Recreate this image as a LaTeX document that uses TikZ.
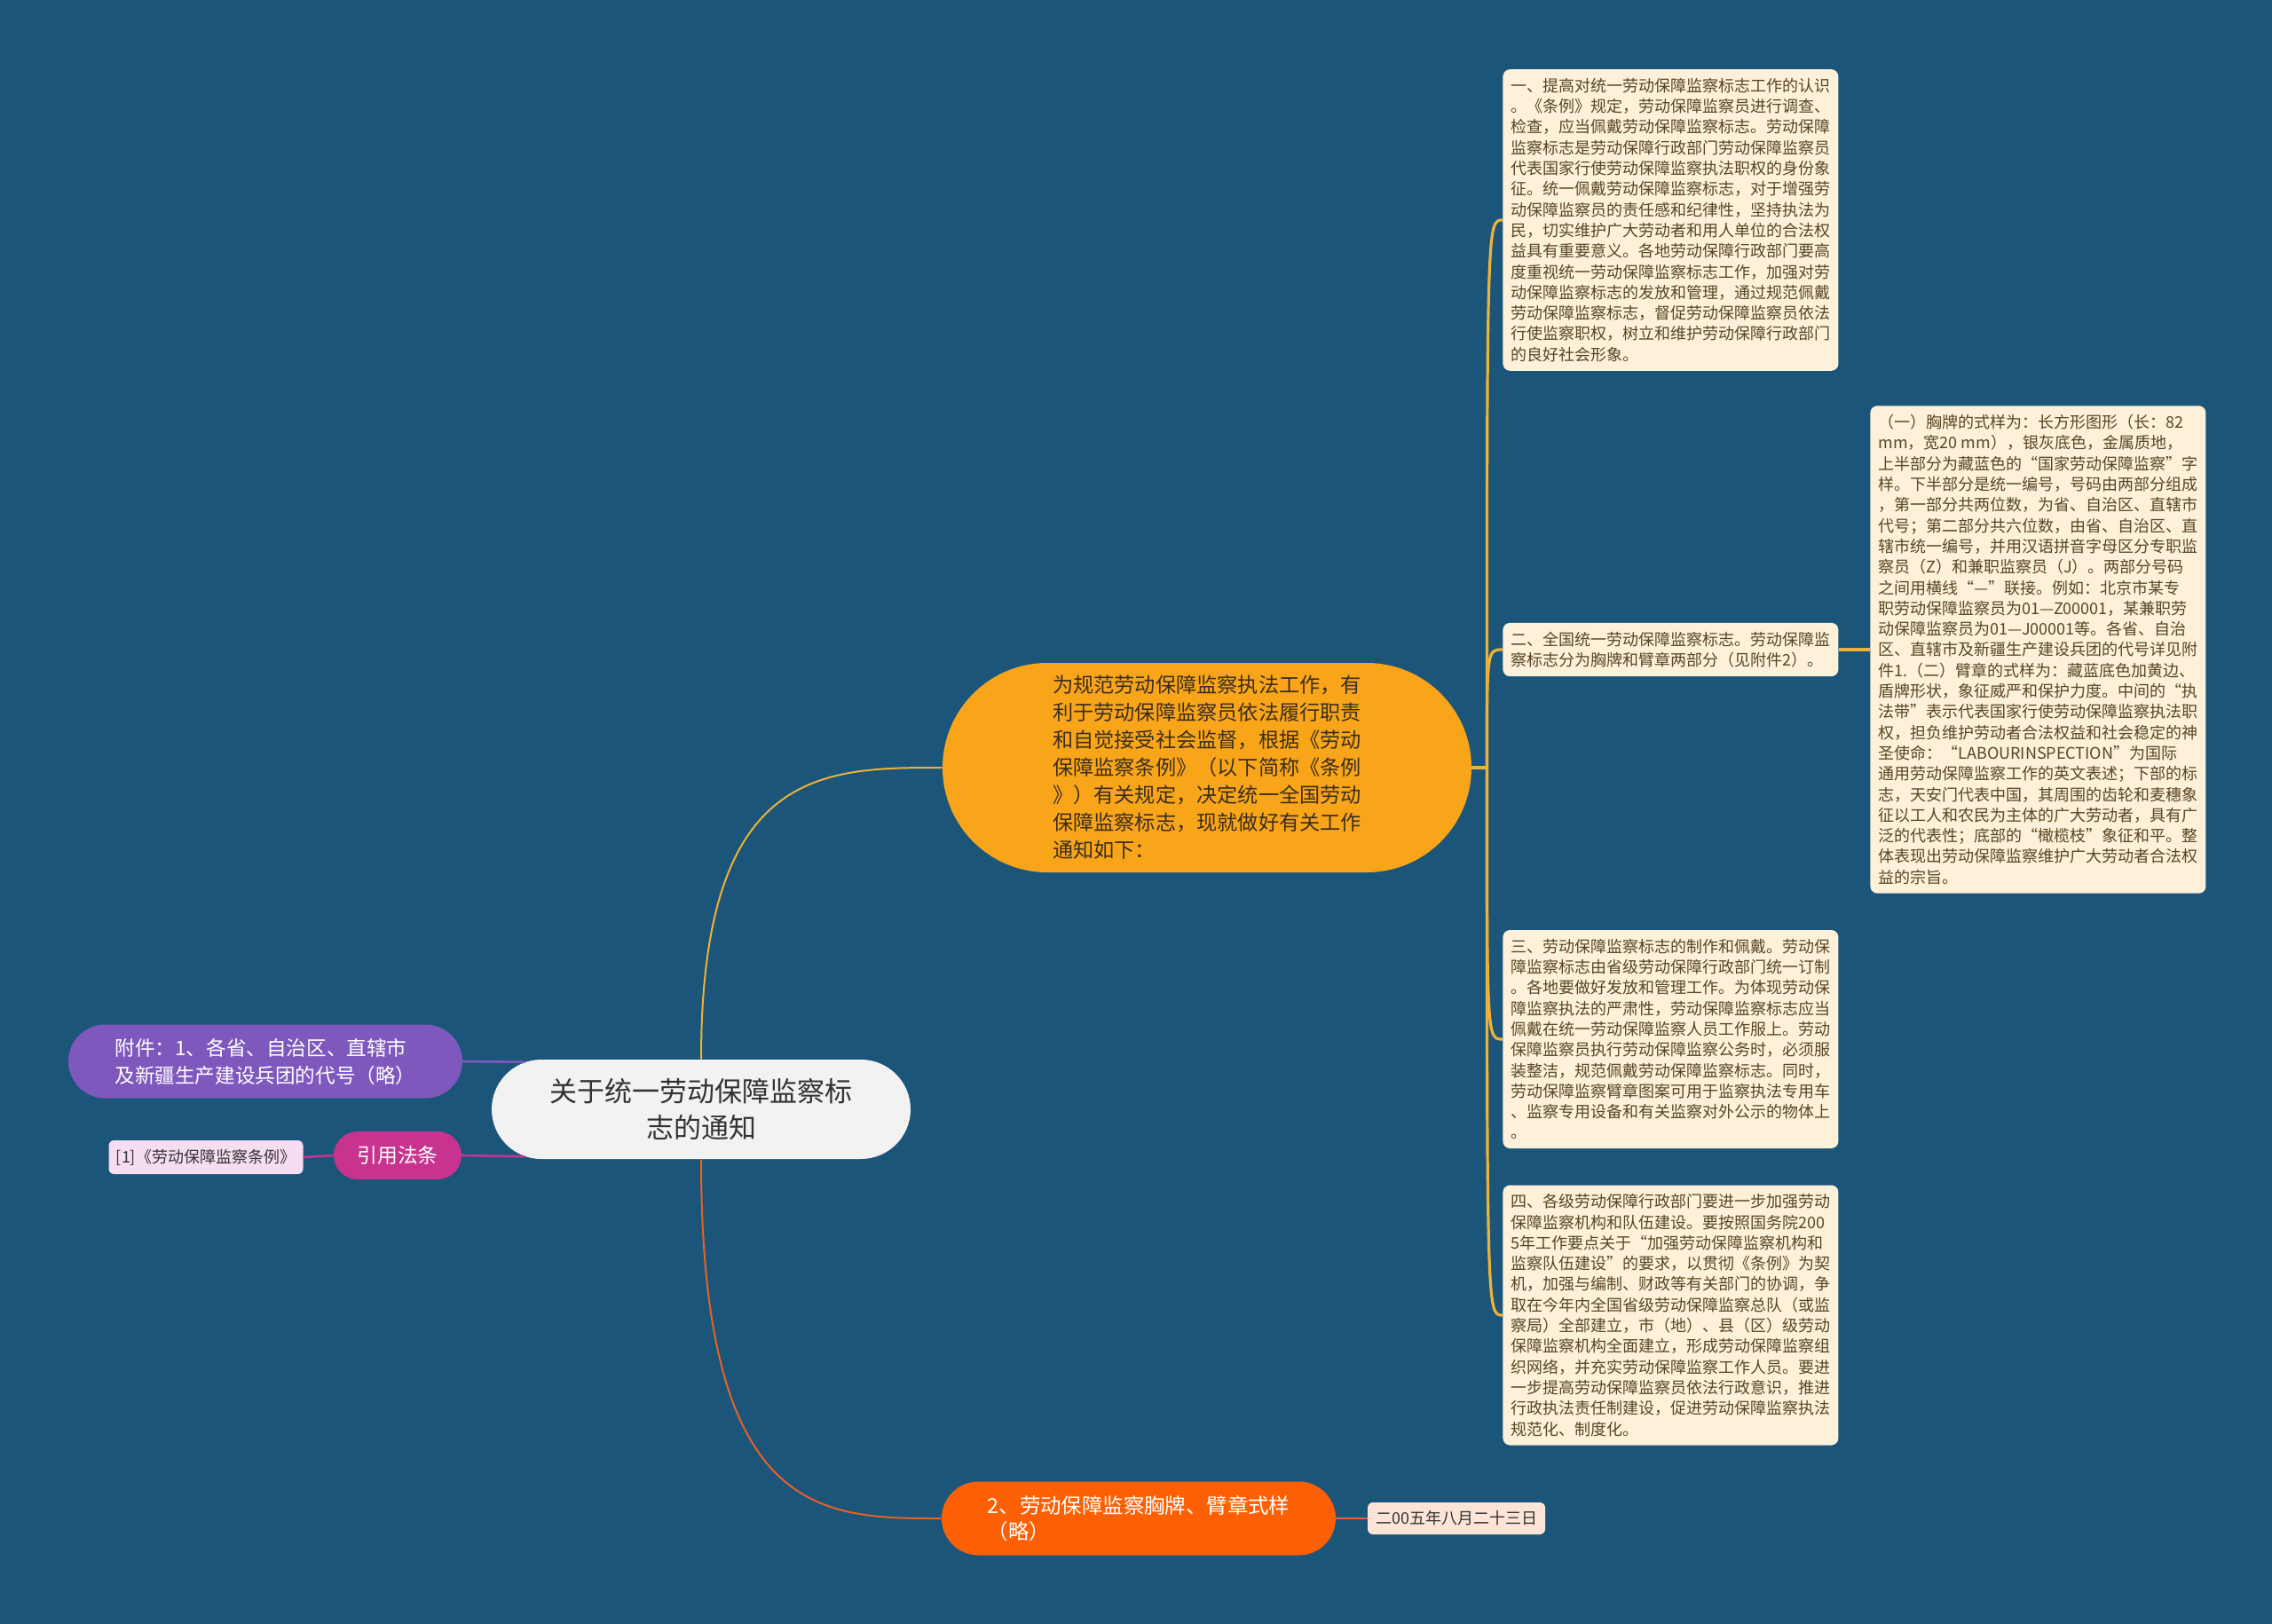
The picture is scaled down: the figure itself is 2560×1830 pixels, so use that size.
\documentclass[tikz,border=0pt]{standalone}
\usepackage{fontspec}
\newfontfamily\cjk{Noto Sans CJK SC}
\usepackage{tikz}
\usetikzlibrary{calc,shapes.misc}
\usepackage{xcolor}
\definecolor{bgblue}{HTML}{1B5579}
\definecolor{titlebg}{HTML}{F2F2F2}
\definecolor{titletext}{HTML}{333333}
\definecolor{introbg}{HTML}{F9A51A}
\definecolor{introtext}{HTML}{3B2E1E}
\definecolor{badgebg}{HTML}{FD6004}
\definecolor{annexbg}{HTML}{7F58BE}
\definecolor{lawbg}{HTML}{C8338F}
\definecolor{lawitembg}{HTML}{F7DDF1}
\definecolor{datebg}{HTML}{FCE4D6}
\definecolor{cardbg}{HTML}{FDF1D9}
\definecolor{cardtext}{HTML}{5A4524}
\definecolor{gold}{HTML}{EDB23A}
\definecolor{redline}{HTML}{E8612A}

\begin{document}
\begin{tikzpicture}[x=0.5pt, y=-0.5pt,
  pill/.style={rounded rectangle, inner xsep=2pt, inner ysep=3pt, align=left},
  card/.style={fill=cardbg, rounded corners=4pt, anchor=west, minimum width=189pt,
               inner xsep=4.5pt, inner ysep=5pt, align=left, text=cardtext,
               font=\cjk\fontsize{9}{11.65}\selectfont},
  tag/.style={rounded corners=3pt, inner xsep=3pt, inner ysep=2pt, text=titletext,
              font=\cjk\fontsize{9}{11}\selectfont},
  link/.style={line width=1.3pt}]
  \fill[bgblue] (0,0) rectangle (2560,1830);

  % 中心与左侧
  \node[pill, fill=titlebg, text=titletext, align=center, minimum width=240pt, minimum height=56pt,
        font=\cjk\fontsize{15.5}{20.5}\selectfont] (title) at (790,1250) {关于统一劳动保障监察标\\志的通知};
  \node[pill, fill=annexbg, text=white, minimum width=226pt, minimum height=41.5pt,
        font=\cjk\fontsize{11.3}{15.5}\selectfont] (annex) at (299,1196)
        {附件：1、各省、自治区、直辖市\\及新疆生产建设兵团的代号（略）};
  \node[pill, fill=lawbg, text=white, minimum width=76pt, minimum height=27pt,
        font=\cjk\fontsize{11.4}{13}\selectfont] (lawref) at (448,1302) {引用法条};
  \node[tag, fill=lawitembg, minimum width=109.5pt, minimum height=19pt] (lawitem) at (232,1304)
        {[1]《劳动保障监察条例》};

  % 右侧分支
  \node[pill, fill=introbg, text=introtext, minimum width=302pt, minimum height=118pt,
        font=\cjk\fontsize{11.6}{15.5}\selectfont] (intro) at (1360,865)
        {为规范劳动保障监察执法工作，有\\利于劳动保障监察员依法履行职责\\和自觉接受社会监督，根据《劳动\\保障监察条例》（以下简称《条例\\》）有关规定，决定统一全国劳动\\保障监察标志，现就做好有关工作\\通知如下：};
  \node[pill, fill=badgebg, text=white, minimum width=226pt, minimum height=41.5pt,
        font=\cjk\fontsize{11.7}{14.7}\selectfont] (badge) at (1283,1711)
        {2、劳动保障监察胸牌、臂章式样\\（略）};
  \node[tag, fill=datebg, minimum width=100pt, minimum height=18pt] (datebox) at (1641,1711)
        {二00五年八月二十三日};

  \node[card] (p1) at (1693,248) {一、提高对统一劳动保障监察标志工作的认识\\。《条例》规定，劳动保障监察员进行调查、\\检查，应当佩戴劳动保障监察标志。劳动保障\\监察标志是劳动保障行政部门劳动保障监察员\\代表国家行使劳动保障监察执法职权的身份象\\征。统一佩戴劳动保障监察标志，对于增强劳\\动保障监察员的责任感和纪律性，坚持执法为\\民，切实维护广大劳动者和用人单位的合法权\\益具有重要意义。各地劳动保障行政部门要高\\度重视统一劳动保障监察标志工作，加强对劳\\动保障监察标志的发放和管理，通过规范佩戴\\劳动保障监察标志，督促劳动保障监察员依法\\行使监察职权，树立和维护劳动保障行政部门\\的良好社会形象。};
  \node[card] (p2) at (1693,732) {二、全国统一劳动保障监察标志。劳动保障监\\察标志分为胸牌和臂章两部分（见附件2）。};
  \node[card] (p2a) at (2107,732) {（一）胸牌的式样为：长方形图形（长：82\\mm，宽20 mm），银灰底色，金属质地，\\上半部分为藏蓝色的“国家劳动保障监察”字\\样。下半部分是统一编号，号码由两部分组成\\，第一部分共两位数，为省、自治区、直辖市\\代号；第二部分共六位数，由省、自治区、直\\辖市统一编号，并用汉语拼音字母区分专职监\\察员（Z）和兼职监察员（J）。两部分号码\\之间用横线“—”联接。例如：北京市某专\\职劳动保障监察员为01—Z00001，某兼职劳\\动保障监察员为01—J00001等。各省、自治\\区、直辖市及新疆生产建设兵团的代号详见附\\件1.（二）臂章的式样为：藏蓝底色加黄边、\\盾牌形状，象征威严和保护力度。中间的“执\\法带”表示代表国家行使劳动保障监察执法职\\权，担负维护劳动者合法权益和社会稳定的神\\圣使命：“LABOURINSPECTION”为国际\\通用劳动保障监察工作的英文表述；下部的标\\志，天安门代表中国，其周围的齿轮和麦穗象\\征以工人和农民为主体的广大劳动者，具有广\\泛的代表性；底部的“橄榄枝”象征和平。整\\体表现出劳动保障监察维护广大劳动者合法权\\益的宗旨。};
  \node[card] (p3) at (1693,1171) {三、劳动保障监察标志的制作和佩戴。劳动保\\障监察标志由省级劳动保障行政部门统一订制\\。各地要做好发放和管理工作。为体现劳动保\\障监察执法的严肃性，劳动保障监察标志应当\\佩戴在统一劳动保障监察人员工作服上。劳动\\保障监察员执行劳动保障监察公务时，必须服\\装整洁，规范佩戴劳动保障监察标志。同时，\\劳动保障监察臂章图案可用于监察执法专用车\\、监察专用设备和有关监察对外公示的物体上\\。};
  \node[card] (p4) at (1693,1482) {四、各级劳动保障行政部门要进一步加强劳动\\保障监察机构和队伍建设。要按照国务院200\\5年工作要点关于“加强劳动保障监察机构和\\监察队伍建设”的要求，以贯彻《条例》为契\\机，加强与编制、财政等有关部门的协调，争\\取在今年内全国省级劳动保障监察总队（或监\\察局）全部建立，市（地）、县（区）级劳动\\保障监察机构全面建立，形成劳动保障监察组\\织网络，并充实劳动保障监察工作人员。要进\\一步提高劳动保障监察员依法行政意识，推进\\行政执法责任制建设，促进劳动保障监察执法\\规范化、制度化。};

  % 连线
  \draw[gold, line width=1pt] (title.north) .. controls (title.north |- intro.west)
        and ($(title.north |- intro.west)!.5!(intro.west)$) .. (intro.west);
  \draw[redline, line width=1pt] (title.south) .. controls (title.south |- badge.west)
        and ($(title.south |- badge.west)!.5!(badge.west)$) .. (badge.west);
  \draw[link, annexbg] (annex.east) -- (title.165);
  \draw[link, lawbg] (lawref.east) -- (title.195);
  \draw[link, lawbg] (lawitem.east) -- (lawref.west);
  \draw[link, redline] (badge.east) -- (datebox.west);

  \coordinate (hub) at ($(intro.east)+(17,0)$);
  \draw[gold, line width=1.6pt] (intro.east) -- (hub);
  \draw[gold, line width=1.6pt] (hub) .. controls (hub |- p1.west) .. (p1.west);
  \draw[gold, line width=1.6pt] (hub) .. controls (hub |- p2.west) .. (p2.west);
  \draw[gold, line width=1.6pt] (hub) .. controls (hub |- p3.west) .. (p3.west);
  \draw[gold, line width=1.6pt] (hub) .. controls (hub |- p4.west) .. (p4.west);
  \draw[gold, line width=1.6pt] (p2.east) -- (p2a.west);
\end{tikzpicture}
\end{document}
